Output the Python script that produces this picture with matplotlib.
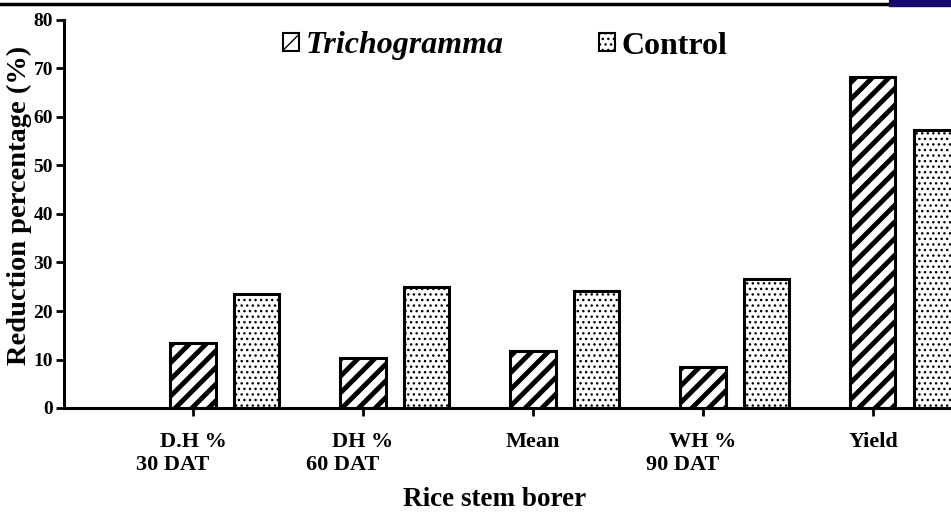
import numpy as np
import matplotlib.pyplot as plt
from matplotlib.patches import Patch, Rectangle
from matplotlib.lines import Line2D
import matplotlib.transforms as mtransforms

plt.rcParams['font.family'] = ['Liberation Serif', 'DejaVu Serif']
plt.rcParams['font.weight'] = 'bold'

# data ------------------------------------------------------------------
categories = ['D.H %', 'DH %', 'Mean', 'WH %', 'Yield']
sublabels = ['30 DAT', '60 DAT', '', '90 DAT', '']
tricho = [13.4, 10.3, 11.8, 8.5, 68.3]
control = [23.5, 25.0, 24.2, 26.6, 57.4]
series_names = ['Trichogramma', 'Control']
yticks = [0, 10, 20, 30, 40, 50, 60, 70, 80]

# figure ----------------------------------------------------------------
W, H = 951, 519
fig = plt.figure(figsize=(W / 100, H / 100), dpi=100)
ax = fig.add_axes([64 / W, 111 / H, 887 / W, 388 / H])

x = np.arange(len(categories))
w = 0.265
off = 0.371

b1 = ax.bar(x, tricho, width=w, color='white', edgecolor='black',
            linewidth=2.2, hatch='//')
b2 = ax.bar(x + off, control, width=w, color='white', edgecolor='black',
            linewidth=2.2, hatch='...')
for p in b1:
    p.set_hatch_linewidth(3.5)
for p in b2:
    p.set_hatch_linewidth(1.0)

ax.set_xlim(-0.759, 4.459)
ax.set_ylim(0, 80)
ax.set_yticks(yticks)
ax.set_xticks(x)
ax.set_xticklabels(categories, fontsize=16, fontweight='bold')
ax.tick_params(axis='y', labelsize=14, width=2, length=6, pad=2)
ax.tick_params(axis='x', width=2, length=6, pad=11)

trans = mtransforms.blended_transform_factory(ax.transData, ax.transAxes)
for xi, s in zip(x, sublabels):
    if s:
        ax.text(xi - 0.12, -(465 - 408) / 388, s, transform=trans,
                ha='center', va='center', fontsize=16, fontweight='bold')

for side in ['top', 'right']:
    ax.spines[side].set_visible(False)
for side in ['left', 'bottom']:
    ax.spines[side].set_linewidth(2.2)

ax.set_ylabel('Reduction percentage (%)', fontsize=20.5, fontweight='bold')
ax.yaxis.set_label_coords((19 - 64) / 887, (408 - 205) / 388)
ax.set_xlabel('Rice stem borer', fontsize=19.5, fontweight='bold')
ax.xaxis.set_label_coords((495 - 64) / 887, -(500 - 408) / 388)
ax.xaxis.label.set_va('center')
ax.yaxis.label.set_va('center')

h1 = Patch(facecolor='white', edgecolor='black', hatch='//', linewidth=1.5)
h2 = Patch(facecolor='white', edgecolor='black', hatch='...', linewidth=1.5)
leg = fig.legend([h1, h2], series_names, ncol=2, frameon=False,
                 loc='center left', bbox_to_anchor=(283 / W, 1 - 46 / H),
                 bbox_transform=fig.transFigure, borderpad=0, borderaxespad=0,
                 fontsize=23, handlelength=0.5, handleheight=0.5,
                 handletextpad=0.2, columnspacing=3.0)
leg.get_texts()[0].set_fontstyle('italic')

# page decoration at the very top
fig.add_artist(Line2D([0, 887 / W], [1 - 4 / H, 1 - 4 / H],
                      transform=fig.transFigure, color='black', linewidth=2.5))
fig.add_artist(Rectangle((889 / W, 1 - 6 / H), 62 / W, 6 / H,
                         transform=fig.transFigure, color='#140a6e'))

fig.savefig('out.png', dpi=100)
